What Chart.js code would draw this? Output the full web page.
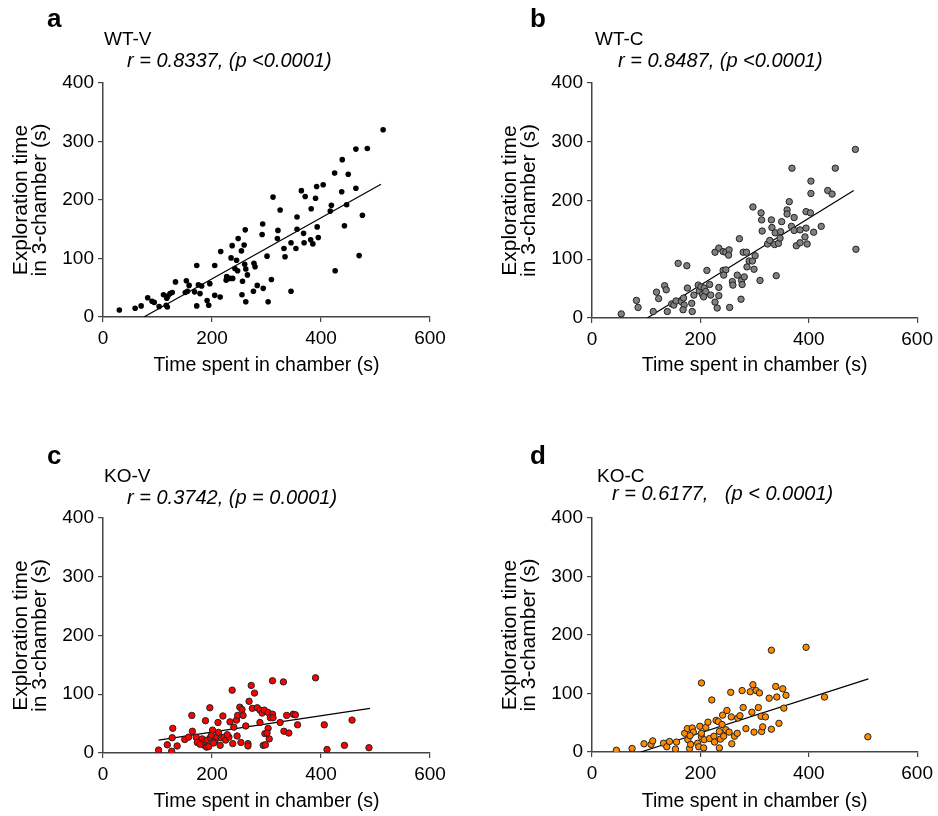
<!DOCTYPE html>
<html>
<head>
<meta charset="utf-8">
<script src="https://cdn.jsdelivr.net/npm/chart.js@4.4.1/dist/chart.umd.min.js"></script>
<style>
  body { margin: 0; background: #fff; width: 938px; height: 816px; position: relative; overflow: hidden;
         font-family: "Liberation Sans", Arial, sans-serif; }
  .panel { position: absolute; width: 469px; height: 408px; }
  .lbl { position: absolute; white-space: pre; line-height: 1; color: #000; }
  .letter { font-weight: bold; font-size: 26px; }
  .group { font-size: 19px; }
  .stat { font-size: 20px; font-style: italic; }
</style>
</head>
<body>
<div class="panel" style="left:0;top:0"><canvas id="chartA" width="469" height="408"></canvas></div>
<div class="panel" style="left:469px;top:0"><canvas id="chartB" width="469" height="408"></canvas></div>
<div class="panel" style="left:0;top:408px"><canvas id="chartC" width="469" height="408"></canvas></div>
<div class="panel" style="left:469px;top:408px"><canvas id="chartD" width="469" height="408"></canvas></div>

<div class="lbl letter" style="left:47px;top:5px">a</div>
<div class="lbl group" style="left:104px;top:29px">WT-V</div>
<div class="lbl stat" style="left:127px;top:50px">r = 0.8337, (p &lt;0.0001)</div>

<div class="lbl letter" style="left:530px;top:5px">b</div>
<div class="lbl group" style="left:595px;top:29px">WT-C</div>
<div class="lbl stat" style="left:618px;top:50px">r = 0.8487, (p &lt;0.0001)</div>

<div class="lbl letter" style="left:47px;top:442px">c</div>
<div class="lbl group" style="left:104px;top:466px">KO-V</div>
<div class="lbl stat" style="left:127px;top:487px">r = 0.3742, (p = 0.0001)</div>

<div class="lbl letter" style="left:530px;top:442px">d</div>
<div class="lbl group" style="left:597px;top:466px">KO-C</div>
<div class="lbl stat" style="left:612px;top:483px">r = 0.6177,   (p &lt; 0.0001)</div>

<script>
const FONT = '"Liberation Sans", Arial, sans-serif';

// axis ticks
const timeTicks = [0, 200, 400, 600];
const exploreTicks = [0, 100, 200, 300, 400];

// WT-V (panel a)
const wtvTime = [30, 59, 70, 82, 90, 94, 103, 111, 119, 123, 127, 117, 116, 118, 133, 153, 158, 151, 155, 168,
  172, 172, 175, 181, 178, 191, 194, 196, 205, 205, 215, 216, 226, 227, 233, 238, 237, 235, 245, 242,
  248, 247, 254, 256, 259, 261, 260, 262, 265, 255, 262, 277, 279, 283, 276, 294, 293, 292,
  312, 325, 321, 320, 301, 309, 303, 332, 334, 345, 354, 356, 356, 345, 364, 371, 368, 369, 382, 381,
  385, 390, 392, 393, 395, 404, 419, 417, 425, 426, 439, 438, 443, 447, 450, 464, 464, 470, 476, 485, 514];
const wtvExplore = [12, 15, 19, 33, 27, 25, 18, 38, 36, 40, 42, 32, 20, 17, 60, 62, 54, 42, 44, 43,
  88, 19, 55, 53, 40, 28, 20, 57, 88, 37, 34, 112, 63, 69, 66, 66, 122, 101, 97, 83,
  134, 79, 113, 61, 123, 149, 90, 82, 72, 38, 26, 92, 86, 54, 44, 49, 159, 141,
  205, 183, 148, 134, 104, 64, 26, 117, 103, 127, 117, 150, 171, 44, 216, 206, 143, 127, 185, 132,
  125, 203, 223, 154, 136, 226, 191, 181, 246, 79, 269, 214, 156, 192, 244, 287, 220, 105, 174, 288, 320];
const wtvFitTime = [75, 510];
const wtvFitExplore = [0, 227];

// WT-C (panel b)
const wtcTime = [54, 82, 85, 113, 119, 123, 134, 137, 139, 147, 151, 155, 159, 165, 169, 170, 168, 175, 176, 184,
  185, 188, 196, 198, 201, 204, 207, 210, 217, 219, 206, 212, 227, 231, 234, 234, 227, 234, 242, 247,
  253, 252, 242, 247, 243, 254, 259, 260, 272, 268, 276, 277, 275, 281, 279, 285, 286, 290, 296, 301,
  299, 310, 297, 312, 313, 314,
  331, 332, 338, 340, 324, 328, 337, 344, 348, 350, 347, 360, 360, 364, 368, 369, 373, 373, 377, 384,
  384, 393, 395, 395, 397, 403, 404, 404, 409, 423, 435, 443, 449, 486, 487];
const wtcExplore = [7, 30, 18, 11, 44, 33, 55, 48, 11, 24, 22, 29, 93, 28, 34, 22, 14, 89, 51, 25,
  11, 39, 56, 46, 53, 40, 51, 45, 57, 39, 36, 81, 27, 17, 38, 52, 112, 119, 113, 112,
  116, 107, 81, 82, 73, 18, 62, 56, 135, 73, 64, 57, 32, 70, 112, 112, 87, 97, 97, 106,
  83, 64, 189, 179, 167, 148,
  167, 154, 145, 72, 126, 132, 125, 127, 147, 164, 136, 184, 177, 198, 156, 255, 171, 149, 123, 150,
  128, 138, 181, 153, 126, 179, 212, 233, 146, 156, 217, 211, 255, 287, 117];
const wtcFitTime = [102, 483];
const wtcFitExplore = [0, 217];

// KO-V (panel c)
const kovTime = [102, 126, 118, 128, 127, 136, 150, 157, 163, 164, 171, 173, 182, 185, 186, 190, 191, 194, 197, 199,
  201, 196, 188, 206, 209, 212, 217, 222, 225, 231, 211, 220, 233, 237, 238, 240, 245, 247, 246, 251,
  255, 257, 253, 262, 266, 266, 268, 272, 274, 278, 283, 288, 288, 292, 296, 294, 297, 303, 305, 303,
  311, 307, 312, 301, 298, 311, 331, 390, 325, 332, 341, 337, 349, 353, 357, 406, 411, 443, 457, 488,
  178, 215, 203, 228];
const kovExplore = [5, 3, 14, 42, 26, 12, 23, 27, 64, 37, 27, 18, 24, 18, 13, 10, 22, 11, 26, 30,
  39, 77, 55, 22, 27, 35, 26, 27, 22, 27, 52, 63, 53, 107, 16, 44, 56, 64, 29, 78,
  74, 64, 18, 46, 16, 12, 88, 115, 76, 102, 77, 73, 52, 68, 73, 13, 33, 42, 24, 69,
  66, 60, 60, 34, 14, 123, 121, 128, 52, 37, 34, 64, 66, 65, 48, 48, 6, 13, 56, 9,
  15, 13, 17, 31];
const kovFitTime = [102, 490];
const kovFitExplore = [22, 76];

// KO-C (panel d)
const kocTime = [45, 74, 96, 109, 112, 132, 138, 143, 154, 156, 171, 176, 177, 180, 182, 185, 187, 181, 195, 197,
  199, 202, 202, 206, 207, 210, 214, 217, 221, 225, 226, 229, 233, 235, 235, 237, 240, 241, 243, 247,
  249, 253, 256, 257, 258, 263, 268, 269, 273, 277, 279, 284, 292, 295, 297, 299, 303, 307, 309, 312,
  313, 320, 315, 331, 345, 327, 341, 339, 352, 358, 354, 331, 395, 429, 509, 202];
const kocExplore = [3, 6, 14, 13, 19, 15, 9, 18, 5, 17, 32, 40, 21, 6, 13, 41, 34, 28, 15, 9,
  44, 26, 32, 7, 21, 42, 51, 23, 89, 27, 17, 54, 52, 7, 35, 22, 47, 63, 27, 38,
  71, 34, 102, 60, 14, 27, 32, 58, 62, 105, 76, 40, 103, 68, 115, 34, 105, 76, 101, 61,
  35, 60, 43, 39, 49, 92, 94, 112, 108, 97, 75, 174, 179, 94, 26, 118];
const kocFitTime = [90, 510];
const kocFitExplore = [0, 125];

function toPoints(xs, ys) {
    return xs.map((x, i) => ({ x: x, y: ys[i] }));
}

// area = chart area inside the 469x408 panel, titleX = centre of first y-title line, titleY = centre of x-title
function makePanel(id, xs, ys, fitX, fitY, dot, area, titleX, titleY) {
    const W = 469, H = 408;
    const yLine = 19.5, xLine = 20;
    const padLeft = titleX - yLine / 2;
    const padBottom = H - titleY - xLine / 2;
    const yWidth = area.left - padLeft;
    const xHeight = H - padBottom - area.bottom;
    const axisColor = "#444";

    return new Chart(document.getElementById(id).getContext("2d"), {
        type: "scatter",
        data: {
            datasets: [
                {
                    data: toPoints(xs, ys),
                    pointRadius: dot.r,
                    pointBackgroundColor: dot.fill,
                    pointBorderColor: dot.edge,
                    pointBorderWidth: dot.bw,
                    showLine: false
                },
                {
                    type: "line",
                    data: toPoints(fitX, fitY),
                    borderColor: "#000",
                    borderWidth: 1.2,
                    pointRadius: 0,
                    fill: false
                }
            ]
        },
        options: {
            responsive: false,
            animation: false,
            devicePixelRatio: 1,
            layout: {
                padding: { left: padLeft, right: W - area.right, top: area.top, bottom: padBottom }
            },
            plugins: {
                legend: { display: false },
                tooltip: { enabled: false }
            },
            scales: {
                x: {
                    type: "linear",
                    min: timeTicks[0],
                    max: timeTicks[timeTicks.length - 1],
                    afterBuildTicks: (s) => { s.ticks = timeTicks.map(v => ({ value: v })); },
                    ticks: { color: "#000", font: { family: FONT, size: 19 }, padding: 5, maxRotation: 0 },
                    grid: { display: true, drawOnChartArea: false, drawTicks: true, tickLength: 5, color: axisColor, lineWidth: 1.2 },
                    border: { display: true, color: axisColor, width: 1.5 },
                    title: {
                        display: true,
                        text: "Time spent in chamber (s)",
                        color: "#000",
                        font: { family: FONT, size: 19.5, lineHeight: xLine + "px" },
                        padding: 0
                    },
                    afterFit: (s) => { s.height = xHeight; }
                },
                y: {
                    type: "linear",
                    min: exploreTicks[0],
                    max: exploreTicks[exploreTicks.length - 1],
                    afterBuildTicks: (s) => { s.ticks = exploreTicks.map(v => ({ value: v })); },
                    ticks: { color: "#000", font: { family: FONT, size: 19 }, padding: 4 },
                    grid: { display: true, drawOnChartArea: false, drawTicks: true, tickLength: 5, color: axisColor, lineWidth: 1.2 },
                    border: { display: true, color: axisColor, width: 1.5 },
                    title: {
                        display: true,
                        text: ["Exploration time", "in 3-chamber (s)"],
                        color: "#000",
                        font: { family: FONT, size: 21, lineHeight: yLine + "px" },
                        padding: 0
                    },
                    afterFit: (s) => { s.width = yWidth; }
                }
            }
        }
    });
}

makePanel("chartA", wtvTime, wtvExplore, wtvFitTime, wtvFitExplore,
    { r: 2.8, fill: "#000", edge: "#000", bw: 0 },
    { left: 103, right: 430, top: 83, bottom: 317 }, 21, 366);

makePanel("chartB", wtcTime, wtcExplore, wtcFitTime, wtcFitExplore,
    { r: 3.2, fill: "#808080", edge: "#222", bw: 1 },
    { left: 123, right: 451, top: 83, bottom: 318 }, 41, 366);

makePanel("chartC", kovTime, kovExplore, kovFitTime, kovFitExplore,
    { r: 3.2, fill: "#ff0000", edge: "#222", bw: 1 },
    { left: 103, right: 430, top: 110, bottom: 345 }, 21, 394);

makePanel("chartD", kocTime, kocExplore, kocFitTime, kocFitExplore,
    { r: 3.2, fill: "#ff8a00", edge: "#222", bw: 1 },
    { left: 123, right: 449, top: 110, bottom: 344 }, 41, 394);
</script>
</body>
</html>
